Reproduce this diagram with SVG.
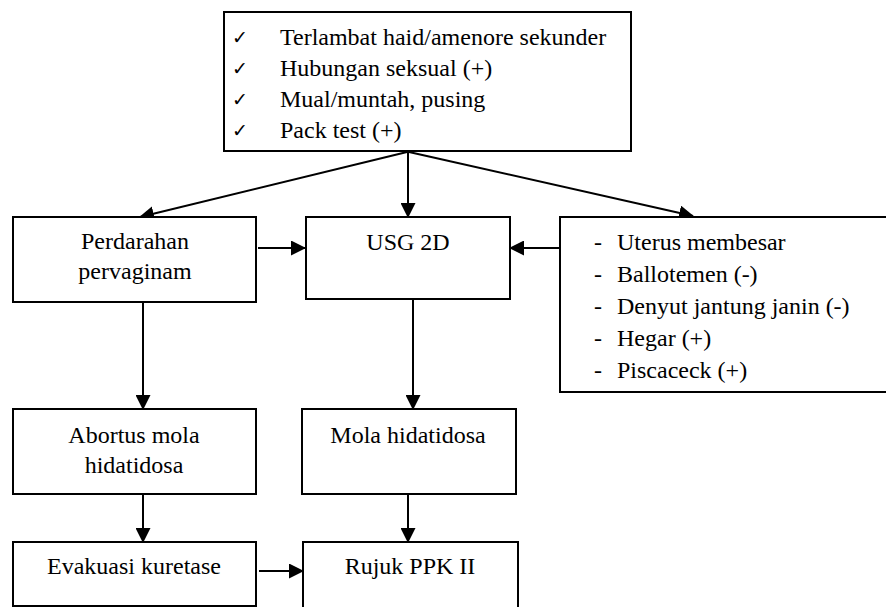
<svg xmlns="http://www.w3.org/2000/svg" width="886" height="607" viewBox="0 0 886 607">
  <style>
    .box { fill: #ffffff; stroke: #000000; stroke-width: 2; }
    .lbl { font-family: "Liberation Serif", Tinos, "Times New Roman", "DejaVu Serif", serif; font-size: 24px; fill: #000000; }
    .mid { text-anchor: middle; }
    .tick { font-family: "DejaVu Sans", sans-serif; font-size: 19px; fill: #000000; }
    .edge { fill: none; stroke: #000000; stroke-width: 2; }
  </style>
  <defs>
    <marker id="arrow" markerUnits="userSpaceOnUse" markerWidth="15" markerHeight="15" viewBox="0 0 15 15" refX="14" refY="7.5" orient="auto">
      <path d="M0,0 L15,7.5 L0,15 Z" fill="#000000"/>
    </marker>
  </defs>
  <rect width="886" height="607" fill="#ffffff"/>

  <!-- Connectors -->
  <g id="connectors">
    <line class="edge" x1="407" y1="152" x2="140" y2="217" marker-end="url(#arrow)"/>
    <line class="edge" x1="408" y1="152" x2="408" y2="217" marker-end="url(#arrow)"/>
    <line class="edge" x1="409" y1="152" x2="693" y2="216" marker-end="url(#arrow)"/>
    <line class="edge" x1="258" y1="248" x2="305" y2="248" marker-end="url(#arrow)"/>
    <line class="edge" x1="560" y1="248" x2="510" y2="248" marker-end="url(#arrow)"/>
    <line class="edge" x1="143" y1="302" x2="143" y2="409" marker-end="url(#arrow)"/>
    <line class="edge" x1="413" y1="299" x2="413" y2="409" marker-end="url(#arrow)"/>
    <line class="edge" x1="143" y1="494" x2="143" y2="542" marker-end="url(#arrow)"/>
    <line class="edge" x1="408" y1="494" x2="408" y2="542" marker-end="url(#arrow)"/>
    <line class="edge" x1="259" y1="571" x2="303" y2="571" marker-end="url(#arrow)"/>
  </g>

  <!-- Nodes -->
  <g id="symptoms">
    <rect class="box" x="224" y="12" width="407" height="139"/>
    <text class="tick" x="232" y="44">✓</text>
    <text class="tick" x="232" y="75">✓</text>
    <text class="tick" x="232" y="106">✓</text>
    <text class="tick" x="232" y="137">✓</text>
    <text class="lbl" x="280" y="45">Terlambat haid/amenore sekunder</text>
    <text class="lbl" x="280" y="76">Hubungan seksual (+)</text>
    <text class="lbl" x="280" y="107">Mual/muntah, pusing</text>
    <text class="lbl" x="280" y="138">Pack test (+)</text>
  </g>

  <g id="perdarahan">
    <rect class="box" x="13" y="217" width="243" height="85"/>
    <text class="lbl mid" x="135" y="249">Perdarahan</text>
    <text class="lbl mid" x="135" y="279">pervaginam</text>
  </g>

  <g id="usg">
    <rect class="box" x="306" y="217" width="204" height="82"/>
    <text class="lbl mid" x="408" y="250">USG 2D</text>
  </g>

  <g id="findings">
    <rect class="box" x="560" y="217" width="340" height="175"/>
    <text class="lbl" x="594" y="250">-</text>
    <text class="lbl" x="594" y="282">-</text>
    <text class="lbl" x="594" y="314">-</text>
    <text class="lbl" x="594" y="346">-</text>
    <text class="lbl" x="594" y="378">-</text>
    <text class="lbl" x="617" y="250">Uterus membesar</text>
    <text class="lbl" x="617" y="282">Ballotemen (-)</text>
    <text class="lbl" x="617" y="314">Denyut jantung janin (-)</text>
    <text class="lbl" x="617" y="346">Hegar (+)</text>
    <text class="lbl" x="617" y="378">Piscaceck (+)</text>
  </g>

  <g id="abortus">
    <rect class="box" x="13" y="409" width="243" height="85"/>
    <text class="lbl mid" x="134" y="443">Abortus mola</text>
    <text class="lbl mid" x="134" y="473">hidatidosa</text>
  </g>

  <g id="mola">
    <rect class="box" x="302" y="409" width="214" height="85"/>
    <text class="lbl mid" x="408" y="443">Mola hidatidosa</text>
  </g>

  <g id="evakuasi">
    <rect class="box" x="13" y="542" width="243" height="64"/>
    <text class="lbl mid" x="134" y="574">Evakuasi kuretase</text>
  </g>

  <g id="rujuk">
    <rect class="box" x="303" y="542" width="215" height="80"/>
    <text class="lbl mid" x="410" y="574">Rujuk PPK II</text>
  </g>
</svg>
